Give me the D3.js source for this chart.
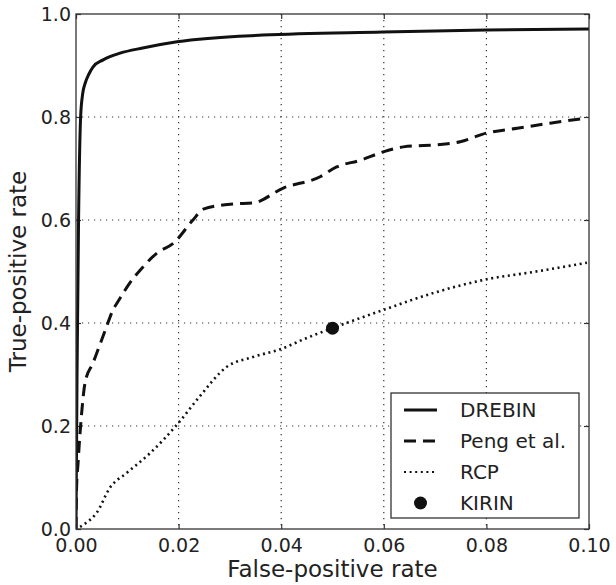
<!DOCTYPE html>
<html><head><meta charset="utf-8">
<script src="https://cdn.jsdelivr.net/npm/d3@7"></script>
<style>body{margin:0;background:#fff}svg{display:block}text{font-family:"DejaVu Sans",sans-serif;fill:#222}</style>
</head><body>
<svg id="c" width="616" height="585"></svg>
<script>
// ---- data ----
const xTicks = [0, 0.02, 0.04, 0.06, 0.08, 0.10];
const yTicks = [0, 0.2, 0.4, 0.6, 0.8, 1.0];
const drebin = [[0,0],[0.0002,0.3],[0.0005,0.6],[0.0009,0.8],[0.0013,0.845],[0.0018,0.866],[0.0025,0.883],[0.0033,0.897],[0.0053,0.911],[0.0086,0.924],[0.013,0.934],[0.0197,0.946],[0.0364,0.959],[0.0598,0.965],[0.08,0.969],[0.1,0.971]];
const peng = [[0,0],[0.0001,0.076],[0.0004,0.128],[0.0011,0.225],[0.0018,0.286],[0.0033,0.322],[0.0057,0.386],[0.0072,0.425],[0.0084,0.445],[0.0105,0.478],[0.0128,0.506],[0.0158,0.536],[0.019,0.555],[0.0228,0.60],[0.0248,0.621],[0.0306,0.631],[0.0345,0.633],[0.0404,0.662],[0.0476,0.684],[0.0508,0.703],[0.0554,0.716],[0.0598,0.732],[0.0638,0.742],[0.0715,0.747],[0.0749,0.752],[0.0801,0.769],[0.086,0.778],[0.0924,0.788],[0.0996,0.798]];
const rcp = [[0.0008,0.004],[0.002,0.012],[0.004,0.031],[0.0066,0.08],[0.0099,0.109],[0.0144,0.147],[0.0199,0.205],[0.024,0.256],[0.0294,0.315],[0.0345,0.334],[0.0398,0.349],[0.045,0.371],[0.05,0.39],[0.0598,0.425],[0.0696,0.458],[0.0801,0.485],[0.0891,0.499],[0.0996,0.517]];
const kirin = [[0.05,0.39]];
const legendLabels = ["DREBIN","Peng et al.","RCP","KIRIN"];

// ---- layout ----
const L=76, R=589, T=14, B=529;
const svg = d3.select("#c");
const x = d3.scaleLinear().domain([0,0.1]).range([L,R]);
const y = d3.scaleLinear().domain([0,1]).range([B,T]);

// grid
const g = svg.append("g");
g.selectAll(".gx").data(xTicks.slice(1,-1)).join("line")
  .attr("x1",d=>x(d)).attr("x2",d=>x(d)).attr("y1",T).attr("y2",B)
  .attr("stroke","#333").attr("stroke-width",1.2).attr("stroke-dasharray","1.2,4.8");
g.selectAll(".gy").data(yTicks.slice(1,-1)).join("line")
  .attr("y1",d=>y(d)).attr("y2",d=>y(d)).attr("x1",L).attr("x2",R)
  .attr("stroke","#333").attr("stroke-width",1.2).attr("stroke-dasharray","1.2,4.8");

// axes
const fmtX = d3.format(".2f"), fmtY = d3.format(".1f");
const ax = svg.append("g").attr("transform",`translate(0,${B})`)
  .call(d3.axisBottom(x).tickValues(xTicks).tickFormat(fmtX).tickSizeInner(-5).tickSizeOuter(0).tickPadding(10));
const ay = svg.append("g").attr("transform",`translate(${L},0)`)
  .call(d3.axisLeft(y).tickValues(yTicks).tickFormat(fmtY).tickSizeInner(-5).tickSizeOuter(0).tickPadding(5));
const axT = svg.append("g").attr("transform",`translate(0,${T})`)
  .call(d3.axisTop(x).tickValues(xTicks).tickFormat("").tickSizeInner(-5).tickSizeOuter(0));
const ayR = svg.append("g").attr("transform",`translate(${R},0)`)
  .call(d3.axisRight(y).tickValues(yTicks).tickFormat("").tickSizeInner(-5).tickSizeOuter(0));
[ax,ay,axT,ayR].forEach(a=>{
  a.select(".domain").remove();
  a.selectAll(".tick line").attr("stroke","#333").attr("stroke-width",1.2);
  a.selectAll(".tick text").attr("font-size",19).attr("fill","#222").style("font-family","DejaVu Sans");
});
ax.selectAll(".tick text").attr("dy","0.71em");
ay.selectAll(".tick text").attr("dy","0.35em");

// lines
const line = d3.line().x(d=>x(d[0])).y(d=>y(d[1])).curve(d3.curveMonotoneX);
svg.append("clipPath").attr("id","cp").append("rect").attr("x",L).attr("y",T-2).attr("width",R-L).attr("height",B-T+2);
const pg = svg.append("g").attr("clip-path","url(#cp)");
pg.append("path").datum(rcp).attr("d",line).attr("fill","none").attr("stroke","#111").attr("stroke-width",2.6).attr("stroke-dasharray","2,3.6");
pg.append("path").datum(peng).attr("d",line).attr("fill","none").attr("stroke","#111").attr("stroke-width",3).attr("stroke-dasharray","12,7");
pg.append("path").datum(drebin).attr("d",line).attr("fill","none").attr("stroke","#111").attr("stroke-width",3);
svg.selectAll(".kirin").data(kirin).join("circle").attr("cx",d=>x(d[0])).attr("cy",d=>y(d[1])).attr("r",6.5).attr("fill","#111");

// frame
svg.append("rect").attr("x",L).attr("y",T).attr("width",R-L).attr("height",B-T).attr("fill","none").attr("stroke","#333").attr("stroke-width",1.3);

// titles
svg.append("text").attr("x",(L+R)/2).attr("y",577).attr("text-anchor","middle").attr("font-size",23).text("False-positive rate");
svg.append("text").attr("transform",`translate(26,${(T+B)/2}) rotate(-90)`).attr("text-anchor","middle").attr("font-size",23).text("True-positive rate");

// legend
const lg = svg.append("g");
lg.append("rect").attr("x",391).attr("y",393).attr("width",188).attr("height",125).attr("fill","#fff").attr("stroke","#333").attr("stroke-width",1.3);
const rowY = d3.scalePoint().domain(legendLabels).range([410,503]);
const styles = {"DREBIN":{w:3,d:null},"Peng et al.":{w:3,d:"12,7"},"RCP":{w:2.2,d:"2,3.6"}};
legendLabels.forEach(k=>{
  const yy = rowY(k);
  if(k==="KIRIN"){
    lg.append("circle").attr("cx",420.5).attr("cy",yy).attr("r",6.5).attr("fill","#111");
  } else {
    lg.append("line").attr("x1",404).attr("x2",437).attr("y1",yy).attr("y2",yy)
      .attr("stroke","#111").attr("stroke-width",styles[k].w).attr("stroke-dasharray",styles[k].d);
  }
  lg.append("text").attr("x",460).attr("y",yy).attr("dy","0.36em").attr("font-size",20).text(k);
});
</script>
</body></html>
